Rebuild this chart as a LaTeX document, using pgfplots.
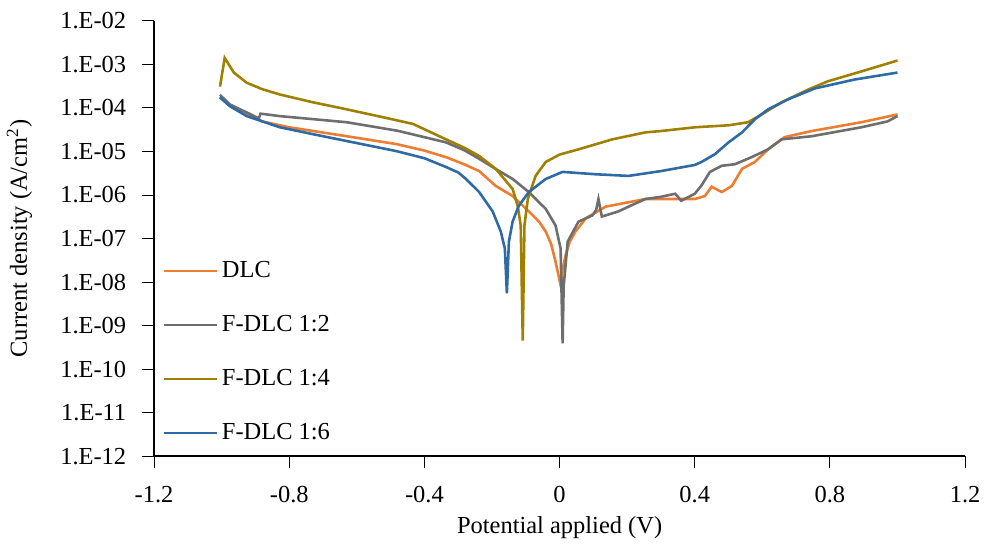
\documentclass[border=0pt]{standalone}
\usepackage{fontspec}
\setmainfont{Liberation Serif}
\usepackage{pgfplots}
\pgfplotsset{compat=1.18}

\definecolor{cDLC}{HTML}{ED7D31}
\definecolor{cFtwo}{HTML}{6E6E6E}
\definecolor{cFfour}{HTML}{A08000}
\definecolor{cFsix}{HTML}{2E6BA4}

\newcommand{\chartfont}{\fontsize{12.3}{14.5}\selectfont}

\begin{document}
\begin{tikzpicture}
\begin{axis}[
  scale only axis,
  width=408pt, height=219pt,
  ymode=log,
  xmin=-1.2, xmax=1.2,
  ymin=1e-12, ymax=1e-2,
  axis x line*=bottom,
  axis y line*=left,
  axis line style={-, line width=0.9pt, black},
  xtick={-1.2,-0.8,-0.4,0,0.4,0.8,1.2},
  xticklabels={-1.2,-0.8,-0.4,0,0.4,0.8,1.2},
  ytick={1e-12,1e-11,1e-10,1e-9,1e-8,1e-7,1e-6,1e-5,1e-4,1e-3,1e-2},
  yticklabels={1.E-12,1.E-11,1.E-10,1.E-09,1.E-08,1.E-07,1.E-06,1.E-05,1.E-04,1.E-03,1.E-02},
  yminorticks=false,
  tick align=outside,
  major tick length=6pt,
  every tick/.style={black, line width=0.5pt},
  tick label style={font=\chartfont},
  xticklabel style={yshift=-5.5pt},
  yticklabel style={xshift=-4.5pt},
  xlabel={Potential applied (V)},
  ylabel={Current density (A/cm\textsuperscript{2})},
  every axis x label/.style={at={(axis description cs:0.5,-0.165)}, anchor=center, font=\chartfont},
  every axis y label/.style={at={(axis description cs:-0.166,0.5)}, rotate=90, anchor=center, font=\chartfont},
  legend style={at={(axis description cs:0.004,0.467)}, anchor=north west,
    draw=none, fill=none, font=\chartfont, row sep=13.5pt,
    legend cell align=left},
  legend image code/.code={\draw[#1, line width=0.8pt] (0pt,0pt) -- (26.5pt,0pt);},
  every axis plot/.append style={line width=1.3pt, mark=none},
]
% DLC
\addplot[cDLC] coordinates {
(-1.005,1.8e-4) (-0.976,1.2e-4) (-0.926,7.6e-5) (-0.88,4.9e-5) (-0.8,3.6e-5)
(-0.63,2.24e-5) (-0.483,1.48e-5) (-0.40,1.05e-5) (-0.336,7.4e-6) (-0.28,5.0e-6)
(-0.238,3.55e-6) (-0.189,1.62e-6) (-0.139,9.5e-7) (-0.091,4.2e-7) (-0.06,2.4e-7)
(-0.041,1.45e-7) (-0.025,7.5e-8) (-0.012,2.95e-8) (0.003,8.5e-9)
(0.010,2.2e-8) (0.018,4.1e-8) (0.030,8.5e-8) (0.047,1.45e-7) (0.077,2.9e-7)
(0.136,5.4e-7) (0.254,8.1e-7)
(0.401,8.1e-7) (0.430,9.5e-7) (0.45,1.55e-6) (0.48,1.17e-6) (0.51,1.62e-6)
(0.54,4.0e-6) (0.578,5.75e-6) (0.617,1.12e-5) (0.666,2.14e-5) (0.746,2.95e-5)
(0.893,4.7e-5) (1.0,7.1e-5)
};
\addlegendentry{DLC}
% F-DLC 1:2
\addplot[cFtwo] coordinates {
(-1.005,2.0e-4) (-0.976,1.2e-4) (-0.926,7.9e-5) (-0.89,5.75e-5) (-0.885,7.4e-5)
(-0.828,6.5e-5) (-0.63,4.7e-5) (-0.48,3.0e-5) (-0.336,1.62e-5) (-0.28,1.05e-5)
(-0.238,6.8e-6) (-0.19,4.0e-6) (-0.139,2.34e-6)
(-0.091,1.17e-6) (-0.041,4.8e-7) (-0.012,2.0e-7) (0.003,5.9e-8) (0.009,3.9e-10)
(0.012,7.9e-9) (0.024,8.5e-8) (0.056,2.45e-7) (0.097,3.4e-7) (0.108,4.5e-7)
(0.115,8.1e-7) (0.125,3.2e-7) (0.174,4.2e-7) (0.204,5.4e-7) (0.254,8.1e-7)
(0.30,9.1e-7) (0.342,1.07e-6) (0.36,7.4e-7) (0.40,1.07e-6) (0.42,1.66e-6)
(0.445,3.4e-6) (0.48,4.7e-6) (0.519,5.1e-6) (0.568,7.4e-6) (0.617,1.12e-5)
(0.657,1.9e-5) (0.746,2.24e-5) (0.893,3.6e-5) (0.97,4.9e-5) (1.0,6.5e-5)
};
\addlegendentry{F-DLC 1:2}
% F-DLC 1:4
\addplot[cFfour] coordinates {
(-1.005,3.1e-4) (-0.991,1.41e-3) (-0.964,6.5e-4) (-0.926,3.8e-4) (-0.88,2.7e-4)
(-0.828,2.04e-4) (-0.73,1.35e-4)
(-0.63,9.3e-5) (-0.53,6.3e-5) (-0.434,4.3e-5) (-0.336,1.9e-5) (-0.28,1.2e-5)
(-0.238,7.9e-6) (-0.189,4.0e-6)
(-0.139,1.38e-6) (-0.124,5.6e-7) (-0.115,2.0e-7) (-0.109,4.5e-10) (-0.104,2.0e-7)
(-0.094,8.1e-7) (-0.071,2.75e-6) (-0.041,5.75e-6) (0.0,8.5e-6) (0.056,1.12e-5)
(0.156,1.9e-5)
(0.254,2.75e-5) (0.30,2.95e-5) (0.401,3.6e-5) (0.50,4.0e-5) (0.558,4.7e-5)
(0.598,7.1e-5) (0.657,1.35e-4) (0.735,2.63e-4) (0.794,4.1e-4) (0.893,6.9e-4)
(1.0,1.23e-3)
};
\addlegendentry{F-DLC 1:4}
% F-DLC 1:6
\addplot[cFsix] coordinates {
(-1.005,1.74e-4) (-0.976,1.1e-4) (-0.926,6.5e-5) (-0.828,3.6e-5) (-0.73,2.5e-5)
(-0.63,1.74e-5) (-0.483,1.02e-5) (-0.40,7.0e-6) (-0.336,4.4e-6) (-0.30,3.3e-6)
(-0.277,2.34e-6) (-0.238,1.17e-6) (-0.198,4.2e-7)
(-0.174,1.45e-7) (-0.162,5.9e-8) (-0.156,5.5e-9) (-0.150,8.5e-8) (-0.139,2.45e-7)
(-0.121,5.6e-7) (-0.091,1.17e-6) (-0.041,2.34e-6) (0.009,3.4e-6) (0.106,3.0e-6)
(0.204,2.75e-6) (0.30,3.55e-6) (0.40,4.9e-6) (0.42,5.75e-6) (0.46,8.7e-6)
(0.50,1.62e-5) (0.54,2.75e-5) (0.578,5.5e-5) (0.617,9.3e-5) (0.676,1.58e-4)
(0.755,2.8e-4) (0.873,4.5e-4) (1.0,6.5e-4)
};
\addlegendentry{F-DLC 1:6}
% page frame matching the reference margins
\coordinate (bbA) at (axis description cs:-0.190,1.048);
\coordinate (bbB) at (axis description cs:1.0197,-0.192);
\end{axis}
\path (bbA) rectangle (bbB);
\end{tikzpicture}
\end{document}
